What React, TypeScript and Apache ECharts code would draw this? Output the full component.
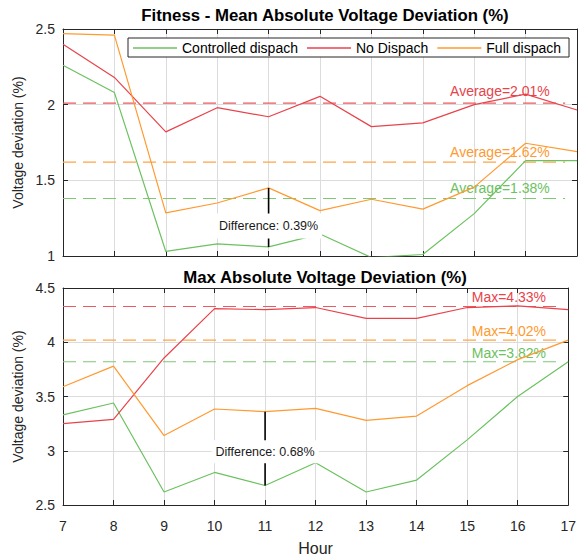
import React, { useEffect, useRef } from "react";
import * as echarts from "echarts";

const hours = [7, 8, 9, 10, 11, 12, 13, 14, 15, 16, 17];
const seriesNames = ["Controlled dispach", "No Dispach", "Full dispach"];

// Mean absolute voltage deviation (%)
const meanControlled = [2.26, 2.08, 1.03, 1.08, 1.06, 1.145, 0.99, 1.01, 1.28, 1.63, 1.63];
const meanNoDispatch = [2.4, 2.18, 1.82, 1.98, 1.92, 2.055, 1.855, 1.88, 2.0, 2.07, 1.965];
const meanFull = [2.47, 2.46, 1.285, 1.35, 1.45, 1.3, 1.375, 1.31, 1.455, 1.745, 1.69];
const meanAverages = [1.38, 2.01, 1.62];

// Max absolute voltage deviation (%)
const maxControlled = [3.33, 3.44, 2.62, 2.8, 2.68, 2.89, 2.62, 2.73, 3.1, 3.5, 3.82];
const maxNoDispatch = [3.25, 3.29, 3.855, 4.31, 4.3, 4.32, 4.22, 4.22, 4.32, 4.335, 4.3];
const maxFull = [3.59, 3.78, 3.14, 3.385, 3.36, 3.39, 3.28, 3.32, 3.6, 3.84, 4.02];
const maxValues = [3.82, 4.33, 4.02];

const colors = ["#6cc160", "#e8434b", "#ff9a30"];
const dashColors = ["#7fc874", "#eb5a60", "#ffa445"];
const FONT = "'Liberation Sans', Arial, Helvetica, sans-serif";
const TXT = "#262626";

const DIFF_HOUR = 11;
const REF_LINE_END = 16.77;
const AVG_LABEL_X = 14.53;
const MAX_LABEL_X = 15.09;

export default function App() {
  const ref = useRef<HTMLDivElement>(null);
  useEffect(() => {
    if (!ref.current) return;
    const chart = echarts.init(ref.current, null, { renderer: "svg" });
    const pair = (a: number[]) => hours.map((h, i) => [h, a[i]]);
    const di = hours.indexOf(DIFF_HOUR);

    const mkSeries = (grid: number, sets: number[][]) =>
      sets.map((d, k) => ({
        type: "line",
        name: seriesNames[k],
        xAxisIndex: grid * 2,
        yAxisIndex: grid * 2,
        data: pair(d),
        symbol: "none",
        color: colors[k],
        lineStyle: { color: colors[k], width: 1.2 },
        itemStyle: { color: colors[k] },
        z: 3,
      }));

    const refSeries = (
      grid: number,
      refs: number[],
      prefix: string,
      labelX: number,
      labelOffsets: number[]
    ) =>
      refs.map((v, k) => ({
        type: "line",
        xAxisIndex: grid * 2,
        yAxisIndex: grid * 2,
        data: [
          [hours[0], v],
          [REF_LINE_END, v],
        ],
        symbol: "none",
        silent: true,
        z: 2,
        lineStyle: { color: dashColors[k], type: [13, 7], width: 1.1 },
        markPoint: {
          silent: true,
          symbol: "circle",
          symbolSize: 0,
          animation: false,
          z: 2,
          label: {
            show: true,
            position: "inside",
            align: "left",
            verticalAlign: "middle",
            offset: [0, labelOffsets[k]],
            color: colors[k],
            fontSize: 14,
            fontFamily: FONT,
            formatter: `${prefix}=${v.toFixed(2)}%`,
          },
          data: [{ coord: [labelX, v] }],
        },
      }));

    const diffSeries = (grid: number, top: number[], bottom: number[], labelY: number) => [
      {
        type: "line",
        xAxisIndex: grid * 2,
        yAxisIndex: grid * 2,
        data: [
          [DIFF_HOUR, top[di]],
          [DIFF_HOUR, bottom[di]],
        ],
        symbol: "none",
        silent: true,
        z: 4,
        lineStyle: { color: "#000", type: "solid", width: 1.6 },
      },
      {
        type: "line",
        xAxisIndex: grid * 2,
        yAxisIndex: grid * 2,
        data: [],
        z: 10,
        markPoint: {
          silent: true,
          symbol: "circle",
          symbolSize: 0,
          animation: false,
          z: 12,
          label: {
            show: true,
            position: "inside",
            align: "center",
            verticalAlign: "middle",
            color: "#1a1a1a",
            fontSize: 12.5,
            fontFamily: FONT,
            backgroundColor: "#ffffff",
            padding: grid === 0 ? [6, 4] : [5, 4],
            formatter: `Difference: ${(top[di] - bottom[di]).toFixed(2)}%`,
          },
          data: [{ coord: [DIFF_HOUR, labelY] }],
        },
      },
    ];

    const axisLine = { show: true, onZero: false, lineStyle: { color: TXT, width: 1 } };
    const tick = { show: true, inside: true, length: 5, lineStyle: { color: TXT } };
    const split = { show: true, lineStyle: { color: "#dcdcdc", width: 1 } };
    const lbl = { color: TXT, fontSize: 14, fontFamily: FONT };

    const xAx = (grid: number, pos: string, main: boolean, labels: boolean) => ({
      type: "value",
      gridIndex: grid,
      position: pos,
      min: 7,
      max: 17,
      interval: 1,
      axisLine,
      axisTick: tick,
      splitLine: main ? split : { show: false },
      axisLabel: labels ? { ...lbl, margin: 14 } : { show: false },
      ...(labels
        ? {
            name: "Hour",
            nameLocation: "middle",
            nameGap: 35,
            nameTextStyle: { color: TXT, fontSize: 16, fontFamily: FONT },
          }
        : {}),
    });
    const yAx = (grid: number, pos: string, main: boolean, min: number, max: number) => ({
      type: "value",
      gridIndex: grid,
      position: pos,
      min,
      max,
      interval: 0.5,
      axisLine,
      axisTick: tick,
      splitLine: main ? split : { show: false },
      axisLabel: main ? { ...lbl, margin: 8 } : { show: false },
      ...(main
        ? {
            name: "Voltage deviation (%)",
            nameLocation: "middle",
            nameGap: 32,
            nameTextStyle: { color: TXT, fontSize: 14, fontFamily: FONT },
          }
        : {}),
    });

    chart.setOption({
      animation: false,
      backgroundColor: "#ffffff",
      textStyle: { fontFamily: FONT },
      title: [
        {
          text: "Fitness - Mean Absolute Voltage Deviation (%)",
          left: 320,
          top: 2,
          textAlign: "center",
          textStyle: { fontSize: 16.8, fontWeight: "bold", color: "#000", fontFamily: FONT },
        },
        {
          text: "Max Absolute Voltage Deviation (%)",
          left: 320,
          top: 264,
          textAlign: "center",
          textStyle: { fontSize: 16.8, fontWeight: "bold", color: "#000", fontFamily: FONT },
        },
      ],
      legend: {
        data: seriesNames,
        left: 128,
        top: 38,
        orient: "horizontal",
        backgroundColor: "#ffffff",
        borderColor: TXT,
        borderWidth: 1,
        borderRadius: 0,
        padding: [3, 8, 2, 5],
        icon: "rect",
        itemWidth: 44,
        itemHeight: 1.5,
        itemGap: 9,
        textStyle: { color: "#000", fontSize: 14, fontFamily: FONT },
        z: 20,
      },
      grid: [
        { left: 63, top: 29, width: 514, height: 227 },
        { left: 63, top: 288, width: 514, height: 230 },
      ],
      xAxis: [
        xAx(0, "bottom", true, false),
        xAx(0, "top", false, false),
        xAx(1, "bottom", true, true),
        xAx(1, "top", false, false),
      ],
      yAxis: [
        yAx(0, "left", true, 1, 2.5),
        yAx(0, "right", false, 1, 2.5),
        yAx(1, "left", true, 2.5, 4.5),
        yAx(1, "right", false, 2.5, 4.5),
      ],
      series: [
        ...refSeries(0, meanAverages, "Average", AVG_LABEL_X, [-10, -12, -10]),
        ...refSeries(1, maxValues, "Max", MAX_LABEL_X, [-9, -9, -9]),
        ...mkSeries(0, [meanControlled, meanNoDispatch, meanFull]),
        ...mkSeries(1, [maxControlled, maxNoDispatch, maxFull]),
        ...diffSeries(0, meanFull, meanControlled, 1.198),
        ...diffSeries(1, maxFull, maxControlled, 2.99),
      ],
    });
    return () => chart.dispose();
  }, []);
  return (
    <div
      ref={ref}
      style={{ position: "absolute", left: 0, top: 0, width: 579, height: 557 }}
    />
  );
}
